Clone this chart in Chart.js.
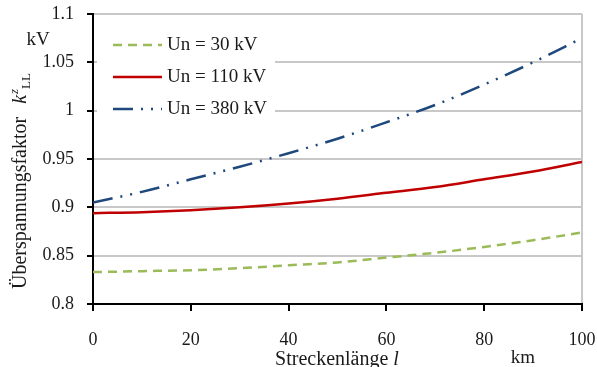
<!DOCTYPE html>
<html lang="de">
<head>
<meta charset="UTF-8">
<title>Überspannungsfaktor</title>
<script src="https://cdn.jsdelivr.net/npm/chart.js"></script>
<style>
  html, body { margin: 0; padding: 0; background: #fff; }
  #wrap { width: 597px; height: 367px; }
</style>
</head>
<body>
<div id="wrap"><canvas id="chart" width="597" height="367"></canvas></div>
<script>
// Streckenlänge in km
const laenge = [0, 10, 20, 30, 40, 50, 60, 70, 80, 90, 100];
const serienNamen = ['Un = 30 kV', 'Un = 110 kV', 'Un = 380 kV'];
const un30 = [0.833, 0.834, 0.835, 0.837, 0.840, 0.843, 0.848, 0.853, 0.859, 0.866, 0.874];
const un110 = [0.894, 0.895, 0.897, 0.900, 0.904, 0.909, 0.915, 0.921, 0.929, 0.937, 0.947];
const un380 = [0.905, 0.916, 0.929, 0.942, 0.956, 0.971, 0.988, 1.006, 1.027, 1.050, 1.075];
const yTicks = [0.8, 0.85, 0.9, 0.95, 1, 1.05, 1.1];
const xTicks = [0, 20, 40, 60, 80, 100];

const FONT = "'Liberation Serif', 'DejaVu Serif', serif";
Chart.defaults.font.family = FONT;
Chart.defaults.font.size = 18;
Chart.defaults.color = '#1a1a1a';

const toPoints = arr => arr.map((v, i) => ({ x: laenge[i], y: v }));

// Legende + Achsentitel selbst zeichnen
const extras = {
  id: 'extras',
  afterDraw(chart) {
    const ctx = chart.ctx;
    ctx.save();
    // Legende
    ctx.fillStyle = '#fff';
    ctx.fillRect(97, 28, 178, 96);
    chart.data.datasets.forEach((ds, i) => {
      const y = 45 + i * 32;
      ctx.beginPath();
      ctx.strokeStyle = ds.borderColor;
      ctx.lineWidth = ds.borderWidth;
      ctx.setLineDash(ds.borderDash || []);
      ctx.moveTo(113, y);
      ctx.lineTo(162, y);
      ctx.stroke();
      ctx.setLineDash([]);
      ctx.fillStyle = '#1a1a1a';
      ctx.font = '19px ' + FONT;
      ctx.textAlign = 'left';
      ctx.textBaseline = 'middle';
      ctx.fillText(ds.label, 167, y);
    });

    ctx.fillStyle = '#1a1a1a';
    ctx.font = '19px ' + FONT;
    ctx.textBaseline = 'alphabetic';
    ctx.textAlign = 'center';
    ctx.fillText('kV', 38, 45);
    ctx.fillText('km', 523, 363);

    // x-Titel
    ctx.textAlign = 'left';
    const t1 = 'Streckenlänge ';
    ctx.font = '20px ' + FONT;
    const w1 = ctx.measureText(t1).width;
    ctx.font = 'italic 20px ' + FONT;
    const w2 = ctx.measureText('l').width;
    let sx = 337 - (w1 + w2) / 2;
    ctx.font = '20px ' + FONT;
    ctx.fillText(t1, sx, 365);
    ctx.font = 'italic 20px ' + FONT;
    ctx.fillText('l', sx + w1, 365);

    // y-Titel, gedreht
    ctx.translate(26, 0);
    ctx.rotate(-Math.PI / 2);
    let px = -289;
    ctx.font = '20px ' + FONT;
    ctx.fillText('Überspannungsfaktor', px, 0);
    px += ctx.measureText('Überspannungsfaktor').width + 13;
    ctx.font = 'italic 20px ' + FONT;
    ctx.fillText('k', px, 0);
    px += ctx.measureText('k').width + 1;
    ctx.font = 'italic 13px ' + FONT;
    ctx.fillText('z', px, -8);
    ctx.font = '13px ' + FONT;
    ctx.fillText('LL', px + 5, 4);
    ctx.restore();
  }
};

new Chart(document.getElementById('chart'), {
  type: 'line',
  data: {
    datasets: [
      { label: serienNamen[0], data: toPoints(un30), borderColor: '#9bbb59', borderWidth: 2.5, borderDash: [9, 6] },
      { label: serienNamen[1], data: toPoints(un110), borderColor: '#c00000', borderWidth: 2.5 },
      { label: serienNamen[2], data: toPoints(un380), borderColor: '#1f497d', borderWidth: 2.5, borderDash: [20, 8, 2, 8, 2, 8] }
    ]
  },
  options: {
    responsive: false,
    animation: false,
    devicePixelRatio: 1,
    layout: { padding: { top: 14, right: 15, left: 0, bottom: 0 } },
    elements: {
      point: { radius: 0 },
      line: { cubicInterpolationMode: 'monotone', fill: false }
    },
    plugins: { legend: { display: false }, tooltip: { enabled: false } },
    scales: {
      x: {
        type: 'linear',
        min: 0, max: 100,
        afterBuildTicks: s => { s.ticks = xTicks.map(v => ({ value: v })); },
        afterFit: s => { s.height = 63; s.paddingLeft = 0; s.paddingRight = 0; },
        ticks: { padding: 18, maxRotation: 0 },
        grid: {
          color: c => (c.tick && c.tick.value === 100 ? '#c8c8c8' : 'rgba(0,0,0,0)'),
          lineWidth: 2,
          tickColor: '#000',
          tickLength: 7
        },
        border: { color: '#000', width: 2 }
      },
      y: {
        min: 0.8, max: 1.1,
        afterBuildTicks: s => { s.ticks = yTicks.map(v => ({ value: v })); },
        afterFit: s => { s.width = 93; s.paddingTop = 0; s.paddingBottom = 0; },
        ticks: { padding: 13, callback: v => String(v) },
        grid: { color: '#c8c8c8', lineWidth: 2, tickColor: '#000', tickLength: 6 },
        border: { color: '#000', width: 2 }
      }
    }
  },
  plugins: [extras]
});
</script>
</body>
</html>
